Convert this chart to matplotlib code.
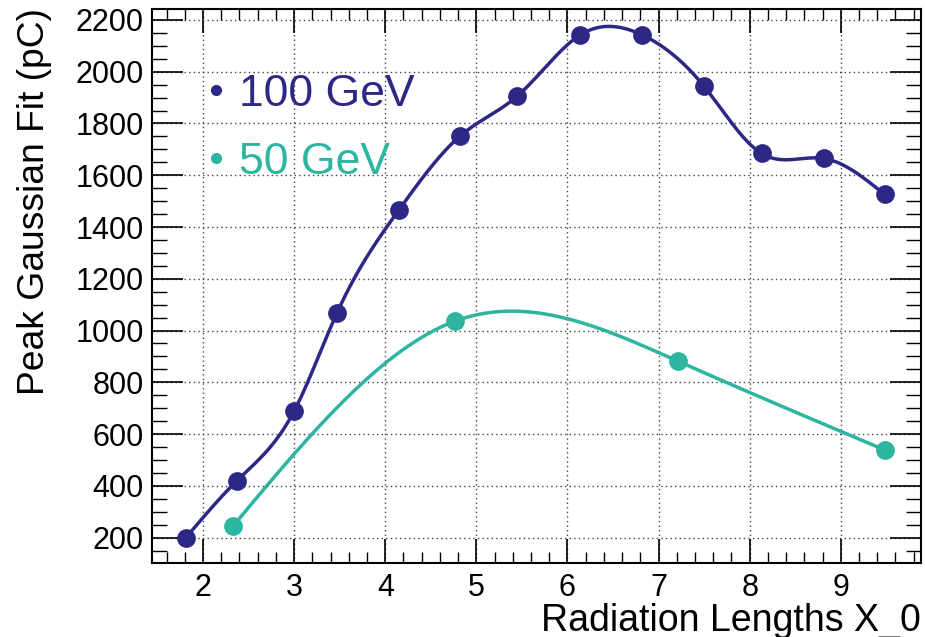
import numpy as np
import matplotlib
matplotlib.use("Agg")
import matplotlib.pyplot as plt
from matplotlib.ticker import MultipleLocator
from matplotlib.lines import Line2D

# ---- data ----
x_100 = [1.81, 2.37, 3.00, 3.47, 4.15, 4.82, 5.45, 6.14, 6.82, 7.50, 8.13, 8.81, 9.48]
y_100 = [199, 419, 689, 1068, 1466, 1751, 1906, 2142, 2142, 1943, 1684, 1665, 1526]
x_50 = [2.33, 4.77, 7.21, 9.48]
y_50 = [245, 1037, 882, 539]
labels = ["100 GeV", "50 GeV"]

C_100 = "#2d2886"
C_50 = "#2db5a0"


def natural_spline(x, y, n=400):
    x = np.asarray(x, float)
    y = np.asarray(y, float)
    k = len(x)
    h = np.diff(x)
    A = np.zeros((k, k))
    b = np.zeros(k)
    A[0, 0] = 1
    A[-1, -1] = 1
    for i in range(1, k - 1):
        A[i, i - 1] = h[i - 1]
        A[i, i] = 2 * (h[i - 1] + h[i])
        A[i, i + 1] = h[i]
        b[i] = 6 * ((y[i + 1] - y[i]) / h[i] - (y[i] - y[i - 1]) / h[i - 1])
    M = np.linalg.solve(A, b)
    xs = np.linspace(x[0], x[-1], n)
    idx = np.clip(np.searchsorted(x, xs) - 1, 0, k - 2)
    x0, x1 = x[idx], x[idx + 1]
    hh = x1 - x0
    t0 = x1 - xs
    t1 = xs - x0
    ys = (M[idx] * t0**3 + M[idx + 1] * t1**3) / (6 * hh) \
        + (y[idx] / hh - M[idx] * hh / 6) * t0 \
        + (y[idx + 1] / hh - M[idx + 1] * hh / 6) * t1
    return xs, ys


plt.rcParams["font.family"] = ["Liberation Sans", "DejaVu Sans"]

fig = plt.figure(figsize=(9.25, 6.37), dpi=100)
ax = fig.add_axes([152 / 925, 1 - 563 / 637, (921 - 152) / 925, (563 - 9.3) / 637])

for xs, ys, c in [(x_100, y_100, C_100), (x_50, y_50, C_50)]:
    sx, sy = natural_spline(xs, ys)
    ax.plot(sx, sy, color=c, lw=2.5, zorder=3, solid_capstyle="round")
    ax.plot(xs, ys, "o", color=c, ms=13.5, zorder=4, markeredgewidth=0)

ax.set_xlim(1.44, 9.88)
ax.set_ylim(102, 2241)
ax.xaxis.set_major_locator(MultipleLocator(1))
ax.xaxis.set_minor_locator(MultipleLocator(0.2))
ax.yaxis.set_major_locator(MultipleLocator(200))
ax.yaxis.set_minor_locator(MultipleLocator(50))

ax.tick_params(which="both", direction="in", top=True, right=True, colors="black",
               labelsize=22)
ax.tick_params(axis="y", which="major", length=22, width=1.2)
ax.tick_params(axis="y", which="minor", length=11, width=1.0)
ax.tick_params(axis="x", which="major", length=17, width=1.2)
ax.tick_params(axis="x", which="minor", length=8, width=1.0)
ax.tick_params(axis="x", pad=7)
ax.tick_params(axis="y", pad=6)

ax.grid(True, which="major", color="#444444", linestyle=(0, (1.0, 2.3)), linewidth=1.0)
ax.set_axisbelow(True)
for s in ax.spines.values():
    s.set_linewidth(1.5)

ax.set_xlabel("Radiation Lengths X_0", fontsize=27, loc="right", labelpad=0)
fig.text(35 / 925, 1 - 8 / 637, "Peak Gaussian Fit (pC)", rotation=90,
         ha="center", va="top", fontsize=26.8)

handles = [Line2D([], [], marker="o", ls="none", color=C_100, ms=7),
           Line2D([], [], marker="o", ls="none", color=C_50, ms=7)]
leg = ax.legend(handles, labels, loc="upper left", bbox_to_anchor=(203 / 925, 1 - 74 / 637),
                bbox_transform=fig.transFigure, frameon=False, fontsize=32,
                labelcolor=[C_100, C_50], handlelength=0.6, handletextpad=0.22,
                labelspacing=0.6, borderpad=0, borderaxespad=0)

fig.savefig("out.png", dpi=100)
